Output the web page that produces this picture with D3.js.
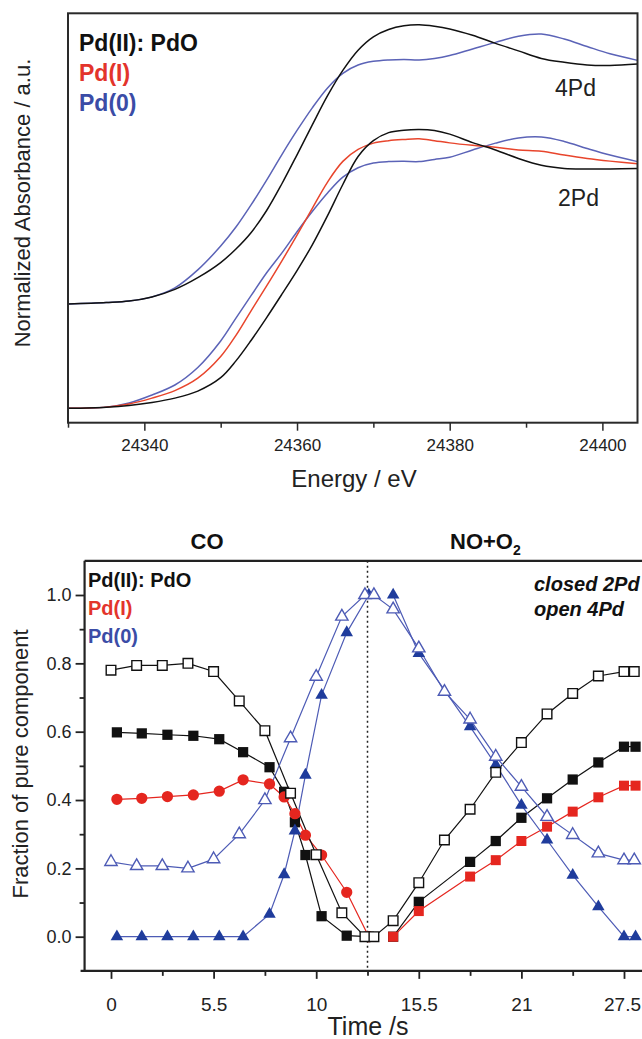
<!DOCTYPE html>
<html>
<head>
<meta charset="utf-8">
<script src="https://cdn.jsdelivr.net/npm/d3@7"></script>
<style>
  body { margin: 0; background: #fff; }
  svg { display: block; font-family: "Liberation Sans", Arial, sans-serif; }
</style>
</head>
<body>
<div id="chart"></div>
<script>
// ---- Top panel: XANES spectra (normalized absorbance) ----
var energy = [24330, 24335, 24338, 24341, 24344, 24347, 24350, 24352, 24354, 24356, 24358, 24360,
              24362, 24364, 24366, 24368, 24370, 24372, 24374, 24376, 24378, 24380, 24383, 24386,
              24389, 24392, 24395, 24398, 24401, 24404.6];
var pdo4Pd = [0.002, 0.008, 0.014, 0.031, 0.062, 0.110, 0.172, 0.228, 0.296, 0.385, 0.495, 0.615,
              0.738, 0.858, 0.962, 1.045, 1.100, 1.130, 1.145, 1.149, 1.143, 1.132, 1.106, 1.073,
              1.042, 1.011, 0.995, 0.984, 0.982, 0.988];
var pd0_4Pd = [0.002, 0.008, 0.014, 0.031, 0.068, 0.142, 0.240, 0.318, 0.410, 0.510, 0.615, 0.715,
               0.808, 0.890, 0.950, 0.984, 0.999, 1.005, 1.007, 1.005, 1.011, 1.023, 1.050, 1.077,
               1.102, 1.111, 1.091, 1.060, 1.030, 1.003];
var pdo2Pd = [0, 0.005, 0.012, 0.024, 0.042, 0.071, 0.126, 0.195, 0.280, 0.372, 0.468, 0.566,
              0.672, 0.792, 0.920, 1.035, 1.100, 1.133, 1.143, 1.146, 1.142, 1.127, 1.092, 1.062,
              1.027, 0.999, 0.986, 0.984, 0.984, 0.986];
var pdI2Pd = [0, 0.005, 0.018, 0.042, 0.073, 0.124, 0.213, 0.300, 0.402, 0.502, 0.605, 0.712,
              0.822, 0.930, 1.015, 1.064, 1.090, 1.100, 1.105, 1.108, 1.100, 1.091, 1.081, 1.073,
              1.062, 1.057, 1.041, 1.027, 1.016, 1.005];
var pd0_2Pd = [0, 0.005, 0.022, 0.055, 0.096, 0.168, 0.277, 0.371, 0.464, 0.556, 0.638, 0.726,
               0.809, 0.885, 0.950, 0.989, 1.008, 1.014, 1.015, 1.014, 1.023, 1.032, 1.062, 1.090,
               1.111, 1.115, 1.097, 1.068, 1.041, 1.014];
var offset4Pd = 0.427;   // vertical shift of the 4Pd spectra
var energyTicks = [24340, 24360, 24380, 24400];
var energyMinor = [24330, 24350, 24370, 24390];

// ---- Bottom panel: linear combination fractions vs time ----
// scan number (4 scans per labelled tick)
var scan4Pd = [0, 1, 2, 3, 4, 5, 6, 7, 8, 9, 9.9, 10.25, 11, 12, 13, 14, 15, 16, 17, 18, 19, 20, 20.4];
var pdoFrac4Pd = [0.78, 0.794, 0.794, 0.80, 0.776, 0.69, 0.603, 0.42, 0.24, 0.07, 0, 0,
                  0.047, 0.158, 0.283, 0.373, 0.481, 0.568, 0.652, 0.712, 0.763, 0.776, 0.776];
var pd0Frac4Pd = [0.219, 0.207, 0.207, 0.200, 0.227, 0.300, 0.400, 0.581, 0.761, 0.937, 1.0, 1.0,
                  0.958, 0.844, 0.717, 0.636, 0.527, 0.439, 0.351, 0.298, 0.244, 0.224, 0.224];

var scan2PdCO = [0.23, 1.2, 2.2, 3.21, 4.22, 5.15, 6.18, 6.75, 7.17, 7.58, 8.21, 9.19, 10.05];
var pdoFrac2PdCO = [0.598, 0.595, 0.591, 0.588, 0.578, 0.540, 0.496, 0.424, 0.335, 0.239, 0.06, 0.003, 0];
var pdIFrac2PdCO = [0.402, 0.405, 0.410, 0.415, 0.426, 0.459, 0.447, 0.409, 0.360, 0.297, 0.239, 0.130, 0];
var pd0Frac2PdCO = [0, 0, 0, 0, 0, 0, 0.066, 0.182, 0.31, 0.473, 0.707, 0.89, 1.0];

var scan2PdNO = [11, 12, 14, 15, 16, 17, 18, 19, 20, 20.45];
var pdoFrac2PdNO = [0, 0.102, 0.219, 0.280, 0.348, 0.405, 0.460, 0.510, 0.556, 0.556];
var pdIFrac2PdNO = [0, 0.075, 0.176, 0.224, 0.280, 0.322, 0.366, 0.408, 0.442, 0.442];
var pd0Frac2PdNO = [1.0, 0.829, 0.615, 0.503, 0.385, 0.283, 0.180, 0.088, 0, 0];

var switchScan = 10;   // CO -> NO+O2
var timeTickPos = [0, 4, 8, 12, 16, 20];
var timeTickLabels = ["0", "5.5", "10", "15.5", "21", "27.5"];
var timeMinor = [2, 6, 10, 14, 18];
var fracTicks = [0, 0.2, 0.4, 0.6, 0.8, 1.0];
var fracMinor = [0.1, 0.3, 0.5, 0.7, 0.9];

// colours
var cBlack = "#111";
var cRed = "#e5261f";
var cBlue = "#1f3c9c";
var cBlueLine = "#4d5bb5";

var width = 642, height = 1039;
var svg = d3.select("#chart").append("svg")
    .attr("width", width)
    .attr("height", height);
svg.append("rect").attr("width", width).attr("height", height).attr("fill", "#fff");

// =================== TOP PANEL ===================
var xT = d3.scaleLinear().domain([24330, 24404.6]).range([68, 637.5]);
var yT = d3.scaleLinear().domain([-0.059, 1.6235]).range([422.7, 13.3]);

var lineT = d3.line()
    .curve(d3.curveCatmullRom.alpha(0.5))
    .x(function(d) { return xT(d[0]); })
    .y(function(d) { return yT(d[1]); });

var spectra = [
    { vals: pd0_4Pd, off: offset4Pd, color: "#5b63b7" },
    { vals: pdo4Pd, off: offset4Pd, color: cBlack },
    { vals: pd0_2Pd, off: 0, color: "#5b63b7" },
    { vals: pdI2Pd, off: 0, color: "#e8452c" },
    { vals: pdo2Pd, off: 0, color: cBlack }
];

svg.append("g").selectAll("path")
    .data(spectra)
    .enter()
    .append("path")
    .attr("d", function(s) {
        return lineT(energy.map(function(e, i) { return [e, s.vals[i] + s.off]; }));
    })
    .attr("fill", "none")
    .attr("stroke", function(s) { return s.color; })
    .attr("stroke-width", 1.5);

// frame
svg.append("rect")
    .attr("x", xT.range()[0]).attr("y", yT.range()[1])
    .attr("width", xT.range()[1] - xT.range()[0])
    .attr("height", yT.range()[0] - yT.range()[1])
    .attr("fill", "none").attr("stroke", "#2a2a2a").attr("stroke-width", 2);

// energy axis
var gxT = svg.append("g")
    .attr("transform", "translate(0," + yT.range()[0] + ")")
    .call(d3.axisBottom(xT).tickValues(energyTicks).tickSize(8).tickPadding(8)
        .tickFormat(d3.format("d")));
gxT.select(".domain").remove();
gxT.selectAll(".tick line").attr("stroke", "#2a2a2a").attr("stroke-width", 1.5);
gxT.selectAll(".tick text").attr("font-size", "17px").attr("fill", "#222")
    .attr("font-family", "Liberation Sans, Arial, sans-serif");

var gxTm = svg.append("g")
    .attr("transform", "translate(0," + yT.range()[0] + ")")
    .call(d3.axisBottom(xT).tickValues(energyMinor).tickSize(5).tickFormat(""));
gxTm.select(".domain").remove();
gxTm.selectAll(".tick line").attr("stroke", "#2a2a2a").attr("stroke-width", 1.5);

svg.append("text")
    .attr("x", 354).attr("y", 487)
    .attr("text-anchor", "middle")
    .attr("font-size", "24px").attr("fill", "#222")
    .text("Energy / eV");

svg.append("text")
    .attr("transform", "translate(30,203) rotate(-90)")
    .attr("text-anchor", "middle")
    .attr("font-size", "22px").attr("fill", "#222")
    .text("Normalized Absorbance / a.u.");

// legend + sample labels
var legendTop = [
    { t: "Pd(II): PdO", c: cBlack },
    { t: "Pd(I)", c: "#e3342b" },
    { t: "Pd(0)", c: "#3b4ca6" }
];
svg.append("g").selectAll("text")
    .data(legendTop)
    .enter()
    .append("text")
    .attr("x", 79)
    .attr("y", function(d, i) { return 51 + i * 30; })
    .attr("font-size", "23px").attr("font-weight", "bold")
    .attr("fill", function(d) { return d.c; })
    .text(function(d) { return d.t; });

svg.append("text").attr("x", 555).attr("y", 96)
    .attr("font-size", "23px").attr("fill", "#222").text("4Pd");
svg.append("text").attr("x", 558).attr("y", 206)
    .attr("font-size", "23px").attr("fill", "#222").text("2Pd");

// =================== BOTTOM PANEL ===================
var xB = d3.scaleLinear().domain([0, 20]).range([111, 624]);
var yB = d3.scaleLinear().domain([0, 1]).range([936.7, 595]);
var bLeft = xB(-1.03), bTop = yB(1.1), bBottom = yB(-0.1);

// axes
var gxB = svg.append("g")
    .attr("transform", "translate(0," + bBottom + ")")
    .call(d3.axisBottom(xB).tickValues(timeTickPos).tickSize(8).tickPadding(19)
        .tickFormat(function(d, i) { return timeTickLabels[i]; }));
gxB.select(".domain").remove();
gxB.selectAll(".tick line").attr("stroke", "#222").attr("stroke-width", 1.8);
gxB.selectAll(".tick text").attr("font-size", "19px").attr("fill", "#222")
    .attr("font-family", "Liberation Sans, Arial, sans-serif");
gxB.selectAll(".tick text").filter(function(d, i) { return i === timeTickPos.length - 1; })
    .attr("dx", -2);

var gxBm = svg.append("g")
    .attr("transform", "translate(0," + bBottom + ")")
    .call(d3.axisBottom(xB).tickValues(timeMinor).tickSize(5).tickFormat(""));
gxBm.select(".domain").remove();
gxBm.selectAll(".tick line").attr("stroke", "#222").attr("stroke-width", 1.8);

var gyB = svg.append("g")
    .attr("transform", "translate(" + bLeft + ",0)")
    .call(d3.axisLeft(yB).tickValues(fracTicks).tickSize(9).tickPadding(4)
        .tickFormat(d3.format(".1f")));
gyB.select(".domain").remove();
gyB.selectAll(".tick line").attr("stroke", "#222").attr("stroke-width", 1.8);
gyB.selectAll(".tick text").attr("font-size", "18px").attr("fill", "#222")
    .attr("font-family", "Liberation Sans, Arial, sans-serif");

var gyBm = svg.append("g")
    .attr("transform", "translate(" + bLeft + ",0)")
    .call(d3.axisLeft(yB).tickValues(fracMinor).tickSize(5).tickFormat(""));
gyBm.select(".domain").remove();
gyBm.selectAll(".tick line").attr("stroke", "#222").attr("stroke-width", 1.8);

// frame lines (right edge runs off the page)
svg.append("line").attr("x1", bLeft).attr("x2", bLeft).attr("y1", bTop).attr("y2", bBottom)
    .attr("stroke", "#222").attr("stroke-width", 2.2);
svg.append("line").attr("x1", bLeft).attr("x2", width).attr("y1", bTop).attr("y2", bTop)
    .attr("stroke", "#222").attr("stroke-width", 2.2);
svg.append("line").attr("x1", bLeft - 4).attr("x2", width).attr("y1", bBottom).attr("y2", bBottom)
    .attr("stroke", "#222").attr("stroke-width", 2.2);

// gas switch marker
svg.append("line")
    .attr("x1", xB(switchScan)).attr("x2", xB(switchScan))
    .attr("y1", bTop).attr("y2", bBottom)
    .attr("stroke", "#222").attr("stroke-width", 1.5)
    .attr("stroke-dasharray", "2,3");

// series
var series = [
    { x: scan2PdCO, y: pdoFrac2PdCO, line: cBlack, sym: d3.symbolSquare, size: 105, fill: cBlack, stroke: "none" },
    { x: scan2PdNO, y: pdoFrac2PdNO, line: cBlack, sym: d3.symbolSquare, size: 105, fill: cBlack, stroke: "none" },
    { x: scan2PdCO, y: pdIFrac2PdCO, line: cRed, sym: d3.symbolCircle, size: 100, fill: cRed, stroke: "none" },
    { x: scan2PdNO, y: pdIFrac2PdNO, line: cRed, sym: d3.symbolSquare, size: 100, fill: cRed, stroke: "none" },
    { x: scan2PdCO, y: pd0Frac2PdCO, line: cBlueLine, sym: d3.symbolTriangle, size: 68, fill: cBlue, stroke: "none" },
    { x: scan2PdNO, y: pd0Frac2PdNO, line: cBlueLine, sym: d3.symbolTriangle, size: 68, fill: cBlue, stroke: "none" },
    { x: scan4Pd, y: pdoFrac4Pd, line: cBlack, sym: d3.symbolSquare, size: 92, fill: "#fff", stroke: cBlack },
    { x: scan4Pd, y: pd0Frac4Pd, line: cBlueLine, sym: d3.symbolTriangle, size: 66, fill: "#fff", stroke: cBlueLine }
];

var lineB = d3.line()
    .x(function(d) { return xB(d[0]); })
    .y(function(d) { return yB(d[1]); });

svg.append("g").selectAll("path")
    .data(series)
    .enter()
    .append("path")
    .attr("d", function(s) { return lineB(d3.zip(s.x, s.y)); })
    .attr("fill", "none")
    .attr("stroke", function(s) { return s.line; })
    .attr("stroke-width", 1.2);

series.forEach(function(s) {
    var sym = d3.symbol().type(s.sym).size(s.size);
    svg.append("g").selectAll("path")
        .data(d3.zip(s.x, s.y))
        .enter()
        .append("path")
        .attr("transform", function(d) { return "translate(" + xB(d[0]) + "," + yB(d[1]) + ")"; })
        .attr("d", sym)
        .attr("fill", s.fill)
        .attr("stroke", s.stroke)
        .attr("stroke-width", 1.4);
});

// headers
svg.append("text").attr("x", 207).attr("y", 549)
    .attr("text-anchor", "middle")
    .attr("font-size", "22px").attr("font-weight", "bold").attr("fill", "#111")
    .text("CO");
var no = svg.append("text").attr("x", 450).attr("y", 549)
    .attr("font-size", "22px").attr("font-weight", "bold").attr("fill", "#111");
no.append("tspan").text("NO+O");
no.append("tspan").attr("font-size", "14px").attr("dy", 6).text("2");

// legend
var legendBottom = [
    { t: "Pd(II): PdO", c: cBlack },
    { t: "Pd(I)", c: "#e3342b" },
    { t: "Pd(0)", c: "#3b4ca6" }
];
svg.append("g").selectAll("text")
    .data(legendBottom)
    .enter()
    .append("text")
    .attr("x", 88)
    .attr("y", function(d, i) { return 587 + i * 28; })
    .attr("font-size", "20px").attr("font-weight", "bold")
    .attr("fill", function(d) { return d.c; })
    .text(function(d) { return d.t; });

svg.append("text").attr("x", 534).attr("y", 591)
    .attr("font-size", "20px").attr("font-weight", "bold").attr("font-style", "italic")
    .attr("fill", "#111").text("closed 2Pd");
svg.append("text").attr("x", 534).attr("y", 616)
    .attr("font-size", "20px").attr("font-weight", "bold").attr("font-style", "italic")
    .attr("fill", "#111").text("open 4Pd");

// axis titles
svg.append("text")
    .attr("x", 368).attr("y", 1035)
    .attr("text-anchor", "middle")
    .attr("font-size", "25px").attr("fill", "#222")
    .text("Time /s");

svg.append("text")
    .attr("transform", "translate(28,764) rotate(-90)")
    .attr("text-anchor", "middle")
    .attr("font-size", "22px").attr("fill", "#222")
    .text("Fraction of pure component");
</script>
</body>
</html>
